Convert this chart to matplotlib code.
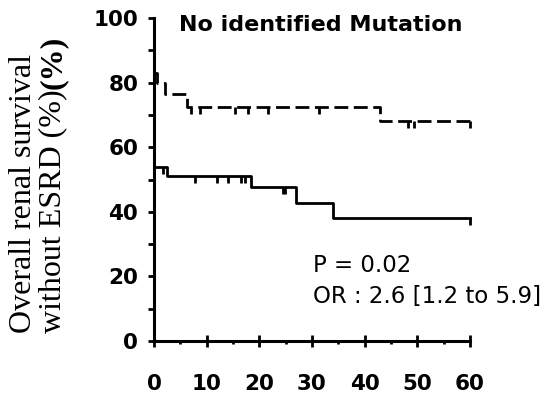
import matplotlib
matplotlib.use("Agg")
import matplotlib.pyplot as plt
from matplotlib import markers
from matplotlib.ticker import MultipleLocator

# ---- data ----
dash_times = [0, 0.5, 2.1, 6.2, 43.0, 60]
dash_surv = [83, 80, 76.5, 72.5, 68, 68]
dash_cens_t = [7.0, 8.8, 15.4, 17.9, 21.6, 31.3, 48.2, 49.3, 60]

solid_times = [0, 2.4, 18.5, 27.0, 34.0, 60]
solid_surv = [54, 51, 47.6, 42.7, 38, 38]
solid_cens_t = [1.7, 7.8, 11.9, 14.1, 16.6, 17.3, 24.5, 24.9, 60]

xticks = [0, 10, 20, 30, 40, 50, 60]
yticks = [0, 20, 40, 60, 80, 100]

title = "No identified Mutation"
ylabel1 = "Overall renal survival"
ylabel2 = "without ESRD (%)"
ylabel2b = "(%)"
pval = "P = 0.02"
ortext = "OR : 2.6 [1.2 to 5.9]"


def step_value(times, vals, t):
    v = vals[0]
    for ti, vi in zip(times, vals):
        if t >= ti:
            v = vi
    return v


fig = plt.figure(figsize=(5.49, 3.97), dpi=100)
ax = fig.add_axes([154 / 549, 1 - 341 / 397, (470 - 154) / 549, (341 - 18) / 397])

lw = 2.0
ax.step(dash_times, dash_surv, where="post", color="black", lw=lw,
        linestyle=(0, (5.0, 2.0)), clip_on=False, solid_capstyle="butt")
ax.step(solid_times, solid_surv, where="post", color="black", lw=lw,
        clip_on=False)

dc = [step_value(dash_times, dash_surv, t) for t in dash_cens_t]
sc = [step_value(solid_times, solid_surv, t) for t in solid_cens_t]
ax.plot(dash_cens_t, dc, linestyle="none", marker=markers.TICKDOWN,
        markersize=5, markeredgewidth=2.0, color="black", clip_on=False)
ax.plot(solid_cens_t, sc, linestyle="none", marker=markers.TICKDOWN,
        markersize=5, markeredgewidth=2.0, color="black", clip_on=False)

ax.set_xlim(0, 60)
ax.set_ylim(0, 100)
for s in ["top", "right"]:
    ax.spines[s].set_visible(False)
for s in ["left", "bottom"]:
    ax.spines[s].set_linewidth(2.2)

ax.set_xticks(xticks)
ax.set_yticks(yticks)
ax.xaxis.set_minor_locator(MultipleLocator(5))
ax.yaxis.set_minor_locator(MultipleLocator(10))
ax.tick_params(axis="x", which="major", direction="inout", length=8, width=2,
               pad=20, labelsize=15.5)
ax.tick_params(axis="x", which="minor", direction="out", length=2.5, width=2)
ax.tick_params(axis="y", which="both", direction="out", length=4.3, width=2,
               pad=7, labelsize=15.5)
for lab in ax.get_xticklabels() + ax.get_yticklabels():
    lab.set_fontweight("bold")

fig.text(321 / 549, 1 - 25 / 397, title, ha="center", va="center",
         fontsize=16, fontweight="bold")
fig.text(313 / 549, 1 - 265 / 397, pval, ha="left", va="center", fontsize=16.5)
fig.text(313 / 549, 1 - 297 / 397, ortext, ha="left", va="center", fontsize=16.5)

serif = "Liberation Serif"
t1 = fig.text(24 / 549, 1 - 333 / 397, ylabel1, rotation=90, ha="center",
              va="bottom", fontsize=23, family=serif)
t2 = fig.text(53 / 549, 1 - 333 / 397, ylabel2, rotation=90, ha="center",
              va="bottom", fontsize=23, family=serif)
fig.canvas.draw()
bb = t2.get_window_extent()
top_frac = bb.y1 / fig.bbox.height
fig.text(53 / 549, top_frac, ylabel2b, rotation=90, ha="center", va="bottom",
         fontsize=23, family=serif, fontweight="bold")

fig.savefig("out.png", dpi=100)
